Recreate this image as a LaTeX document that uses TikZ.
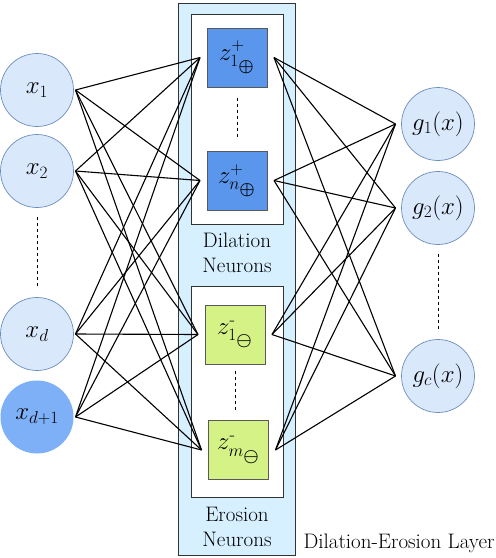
\documentclass[tikz,border=0pt]{standalone}
\usepackage{amsmath}
\usepackage{amssymb}
\usepackage{bm}
\usepackage{tikz}
\usetikzlibrary{positioning}
\definecolor{inpfill}{RGB}{218,232,252}
\definecolor{inpdraw}{RGB}{108,142,191}
\definecolor{biasfill}{RGB}{126,176,247}
\definecolor{dilfill}{RGB}{90,150,235}
\definecolor{erofill}{RGB}{213,242,134}
\definecolor{layerfill}{RGB}{214,240,255}

\begin{document}
\begin{tikzpicture}[x=1pt,y=-1pt,
    unit/.style={circle,draw=inpdraw,fill=inpfill,line width=0.7pt,minimum size=73pt,inner sep=0,
      outer sep=2pt,font=\fontsize{27}{30}\selectfont},
    neuron/.style={draw=black!65,line width=1pt,minimum width=60pt,minimum height=59pt,inner sep=0,
      outer xsep=7pt,font=\fontsize{26}{30}\selectfont},
    group/.style={draw=black!80,fill=white,line width=1pt,inner sep=0},
    grouplabel/.style={font=\fontsize{21}{25}\selectfont,align=center},
    wire/.style={line width=1.1pt},
    ellip/.style={line width=0.9pt,dash pattern=on 3pt off 3pt}]
  \useasboundingbox (0,0) rectangle (496,558);
  % layer and the two groups of neurons
  \node[draw=black!80,fill=layerfill,line width=1pt,minimum width=117pt,minimum height=552pt,inner sep=0] (layer) at (236.5,279) {};
  \node[group,minimum width=92pt,minimum height=210pt] (dilbox) at (237,119) {};
  \node[group,minimum width=92pt,minimum height=211pt] (erobox) at (237,391.5) {};
  \node[grouplabel] (dillabel) at (237,253) {Dilation\\Neurons};
  \node[grouplabel] (erolabel) at (237,527) {Erosion\\Neurons};
  \node[grouplabel,anchor=west] (laylabel) at (300,543) {Dilation-Erosion Layer};
  % neurons
  \node[neuron,fill=dilfill] (z1p) at (237,57.5) {$z^{+}_{1_{\scriptstyle\bm{\oplus}}}$};
  \node[neuron,fill=dilfill] (znp) at (237,180.5) {$z^{+}_{n_{\scriptstyle\bm{\oplus}}}$};
  \node[neuron,fill=erofill] (z1m) at (235,334.5) {$z^{\text{-}}_{1_{\scriptstyle\bm{\ominus}}}$};
  \node[neuron,fill=erofill] (zmm) at (238.5,450) {$z^{\text{-}}_{m_{\scriptstyle\bm{\ominus}}}$};
  % inputs
  \node[unit] (x1) at (37,90) {$x_1$};
  \node[unit] (x2) at (37,171) {$x_2$};
  \node[unit] (xd) at (37,334) {$x_d$};
  \node[unit,draw=none,fill=biasfill] (xb) at (37,417) {$x_{d+1}$};
  % outputs
  \node[unit,outer sep=6pt] (g1) at (438,124) {$g_1(x)$};
  \node[unit,outer sep=6pt] (g2) at (438,208) {$g_2(x)$};
  \node[unit,outer sep=6pt] (gc) at (438,376) {$g_c(x)$};
  % dotted gaps
  \draw[ellip,shorten <=7pt,shorten >=10pt] (x2) -- (xd);
  \draw[ellip,shorten <=10pt,shorten >=14pt] (z1p.south) -- (znp.north);
  \draw[ellip,shorten <=6pt,shorten >=9pt] (z1m.south) -- (z1m.south |- zmm.north);
  \draw[ellip,shorten <=3pt,shorten >=4pt] (g2) -- (gc);
  % full connections
  \foreach \i in {x1,x2,xd,xb}
    \foreach \j in {z1p,znp,z1m,zmm}
      \draw[wire] (\i.east) -- (\j.west);
  \foreach \j in {z1p,znp,z1m,zmm}
    \foreach \k in {g1,g2,gc}
      \draw[wire] (\j.east) -- (\k.west);
\end{tikzpicture}
\end{document}
